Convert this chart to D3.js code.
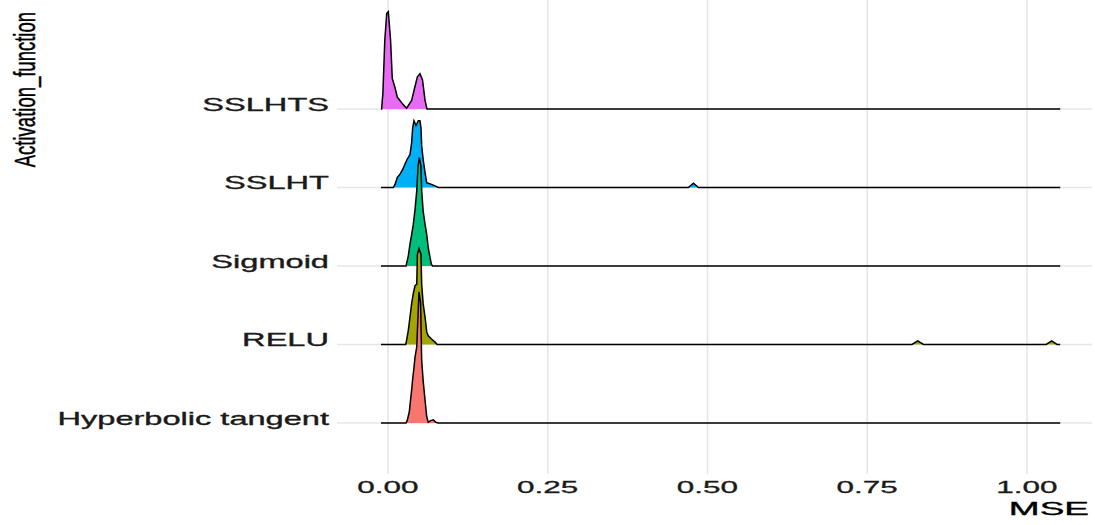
<!DOCTYPE html>
<html>
<head>
<meta charset="utf-8">
<script src="https://cdn.jsdelivr.net/npm/d3@7"></script>
<style>
  html, body { margin: 0; padding: 0; background: #ffffff; }
  svg { display: block; }
  text { font-family: "Liberation Sans", Arial, sans-serif; }
</style>
</head>
<body>
<svg id="chart" width="1095" height="525"></svg>
<script>
// ---- data ----
const categories = ["Hyperbolic tangent", "RELU", "Sigmoid", "SSLHT", "SSLHTS"];
const xTicks = [0, 0.25, 0.5, 0.75, 1.0];
const xTickLabels = ["0.00", "0.25", "0.50", "0.75", "1.00"];
const mseRange = [-0.011, 1.052];

// [MSE, ridge height in units of row spacing]
const tanhDensity = [[0.0282,0],[0.030,0.03],[0.0333,0.14],[0.0355,0.31],[0.037,0.42],[0.0386,0.56],[0.0407,0.71],[0.0423,0.84],[0.045,0.97],[0.0465,1.27],[0.0485,1.67],[0.051,1.53],[0.0527,0.80],[0.055,0.54],[0.058,0.29],[0.0606,0.08],[0.063,0.01],[0.0668,0.03],[0.071,0.04],[0.075,0.01],[0.0787,0]];
const reluDensity = [[0.0277,0],[0.029,0.05],[0.0318,0.18],[0.0344,0.35],[0.037,0.52],[0.0396,0.65],[0.0423,0.75],[0.045,0.77],[0.046,1.15],[0.0485,1.22],[0.0516,1.15],[0.0527,0.77],[0.055,0.52],[0.058,0.35],[0.0606,0.16],[0.063,0.11],[0.068,0.07],[0.0736,0.03],[0.077,0],[0.820,0],[0.829,0.045],[0.838,0],[1.030,0],[1.0386,0.045],[1.047,0]];
const sigmoidDensity = [[0.0282,0],[0.0318,0.13],[0.0344,0.28],[0.037,0.40],[0.0396,0.53],[0.0423,0.72],[0.045,0.96],[0.047,1.27],[0.049,1.38],[0.0516,1.27],[0.0527,0.96],[0.055,0.70],[0.058,0.53],[0.0606,0.40],[0.063,0.23],[0.0657,0.11],[0.068,0.02],[0.070,0]];
const sslhtDensity = [[0.0083,0],[0.011,0.04],[0.0146,0.13],[0.0188,0.17],[0.023,0.23],[0.0266,0.30],[0.030,0.36],[0.0344,0.42],[0.037,0.57],[0.0386,0.76],[0.0407,0.85],[0.0438,0.79],[0.0474,0.85],[0.050,0.85],[0.0516,0.76],[0.0527,0.53],[0.055,0.36],[0.058,0.19],[0.0606,0.06],[0.068,0.04],[0.0736,0.02],[0.0787,0],[0.470,0],[0.478,0.055],[0.486,0]];
const sslhtsDensity = [[-0.010,0],[-0.008,0.20],[-0.005,0.88],[-0.002,1.22],[0.0005,1.24],[0.004,0.88],[0.0067,0.39],[0.011,0.27],[0.0146,0.15],[0.0214,0.08],[0.029,0.01],[0.037,0.11],[0.042,0.28],[0.046,0.41],[0.050,0.45],[0.054,0.37],[0.058,0.11],[0.061,0]];

const densities = [tanhDensity, reluDensity, sigmoidDensity, sslhtDensity, sslhtsDensity];
const colors = ["#F8766D", "#A3A500", "#00BF7D", "#00B0F6", "#E76BF3"];

// ---- layout ----
const panel = { left: 337, right: 1092, top: 0, bottom: 474 };
const svg = d3.select("#chart");

const x = d3.scaleLinear().domain([0, 1]).range([388, 1027]);
const yBase = d3.scalePoint().domain(categories).range([423, 109]);
const rowStep = (yBase.range()[0] - yBase.range()[1]) / (categories.length - 1);
const h = d3.scaleLinear().domain([0, 1]).range([0, rowStep]);

// gridlines
const grid = svg.append("g");
grid.selectAll("line.v").data(xTicks).join("line")
  .attr("x1", d => x(d)).attr("x2", d => x(d))
  .attr("y1", panel.top).attr("y2", panel.bottom)
  .attr("stroke", "#e6e6e6").attr("stroke-width", 1.6);
grid.selectAll("line.h").data(categories).join("line")
  .attr("x1", panel.left).attr("x2", panel.right)
  .attr("y1", d => yBase(d)).attr("y2", d => yBase(d))
  .attr("stroke", "#e6e6e6").attr("stroke-width", 1.6);

// ridges: top row first so lower rows overlap
const order = d3.range(categories.length).reverse();
const ridges = svg.append("g");
order.forEach(i => {
  const cat = categories[i];
  const base = yBase(cat);
  const pts = [[mseRange[0], 0], ...densities[i], [mseRange[1], 0]];
  const area = d3.area()
    .x(d => x(d[0]))
    .y0(base)
    .y1(d => base - h(d[1]));
  const line = d3.line()
    .x(d => x(d[0]))
    .y(d => base - h(d[1]));
  const g = ridges.append("g");
  g.append("path").datum(pts).attr("d", area)
    .attr("fill", colors[i]).attr("stroke", "none");
  g.append("path").datum(pts).attr("d", line)
    .attr("fill", "none").attr("stroke", "#000").attr("stroke-width", 1.5)
    .attr("stroke-linejoin", "miter");
});

// y labels (stretched horizontally like the reference)
const yLab = svg.append("g");
yLab.selectAll("text").data(categories).join("text")
  .attr("x", 329).attr("y", d => yBase(d) + 1.5)
  .attr("text-anchor", "end")
  .attr("font-size", 18.5).attr("fill", "#1a1a1a")
  .attr("stroke", "#1a1a1a").attr("stroke-width", 0.35)
  .text(d => d)
  .each(function () {
    const w = this.getComputedTextLength();
    d3.select(this).attr("textLength", w * 1.76).attr("lengthAdjust", "spacingAndGlyphs");
  });

// x tick labels
const xLab = svg.append("g");
xLab.selectAll("text").data(xTicks).join("text")
  .attr("x", d => x(d)).attr("y", 493)
  .attr("text-anchor", "middle")
  .attr("font-size", 17).attr("fill", "#1a1a1a")
  .attr("stroke", "#1a1a1a").attr("stroke-width", 0.3)
  .text((d, i) => xTickLabels[i])
  .each(function () {
    const w = this.getComputedTextLength();
    d3.select(this).attr("textLength", w * 1.85).attr("lengthAdjust", "spacingAndGlyphs");
  });

// axis titles
svg.append("text")
  .attr("x", 1089).attr("y", 515)
  .attr("text-anchor", "end")
  .attr("font-size", 18.5).attr("fill", "#000")
  .attr("stroke", "#000").attr("stroke-width", 0.35)
  .text("MSE")
  .each(function () {
    const w = this.getComputedTextLength();
    d3.select(this).attr("textLength", w * 2.0).attr("lengthAdjust", "spacingAndGlyphs");
  });

svg.append("text")
  .attr("transform", "translate(35,12) scale(1.62,1) rotate(-90)")
  .attr("text-anchor", "end")
  .attr("font-size", 18.5).attr("fill", "#000")
  .attr("stroke", "#000").attr("stroke-width", 0.3)
  .text("Activation_function");
</script>
</body>
</html>
